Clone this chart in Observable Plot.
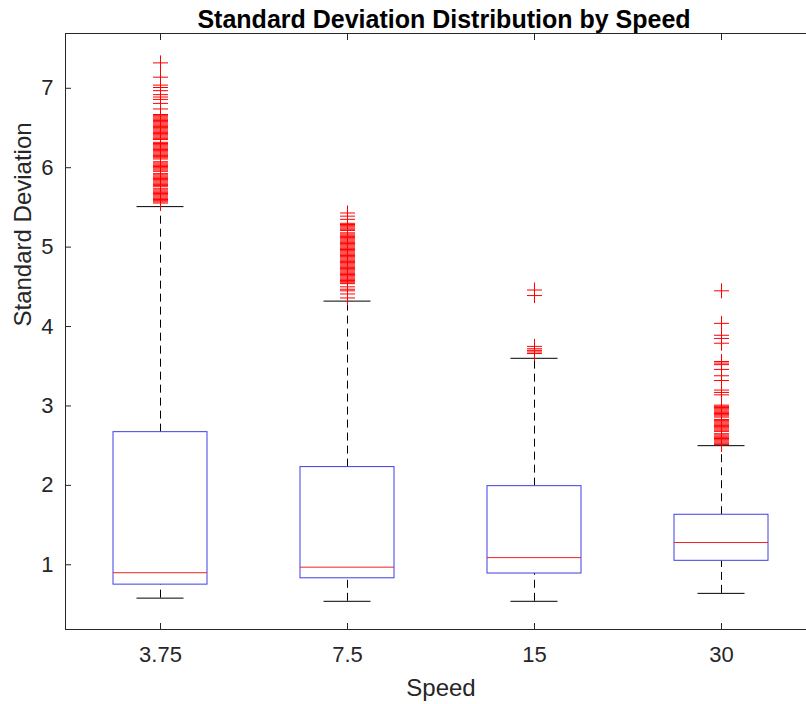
<!DOCTYPE html>
<html>
<head>
<meta charset="utf-8">
<script src="https://cdn.jsdelivr.net/npm/d3@7"></script>
<script src="https://cdn.jsdelivr.net/npm/@observablehq/plot@0.6"></script>
<style>
  html, body { margin: 0; padding: 0; background: #fff; overflow: hidden; }
  #chart svg { display: block; }
</style>
</head>
<body>
<div id="chart"></div>
<script>
const titleText = "Standard Deviation Distribution by Speed";
const xLabel = "Speed";
const yLabel = "Standard Deviation";

const speeds = ["3.75", "7.5", "15", "30"];
const q1 = [0.75, 0.83, 0.89, 1.05];
const medians = [0.90, 0.97, 1.09, 1.28];
const q3 = [2.67, 2.23, 1.99, 1.63];
const whiskerLow = [0.58, 0.54, 0.54, 0.64];
const whiskerHigh = [5.51, 4.32, 3.60, 2.50];
const yTicks = [1, 2, 3, 4, 5, 6, 7];

const outliers375 = [7.32, 7.14, 7.04, 7.01, 6.97, 6.92, 6.89, 6.86, 6.81, 6.74,
  6.67, 6.655, 6.64, 6.625, 6.61, 6.595, 6.58, 6.565, 6.55, 6.535, 6.52, 6.505, 6.49, 6.475,
  6.46, 6.445, 6.43, 6.415, 6.40, 6.385, 6.37, 6.355,
  6.32, 6.305, 6.29, 6.275, 6.26, 6.245, 6.23, 6.215, 6.20, 6.185, 6.17, 6.155, 6.14, 6.125, 6.11,
  6.075, 6.06, 6.045, 6.03, 6.015, 6.00, 5.985, 5.97, 5.955,
  5.925, 5.91, 5.895, 5.88, 5.865, 5.85, 5.835, 5.82, 5.805, 5.79, 5.775, 5.76,
  5.735, 5.72, 5.705, 5.69, 5.675, 5.66, 5.645, 5.63, 5.615, 5.60, 5.585, 5.57, 5.555];
const outliers75 = [5.43, 5.39, 5.35,
  5.30, 5.285, 5.27, 5.255, 5.24, 5.225, 5.21, 5.18, 5.165, 5.15, 5.135, 5.12, 5.105,
  5.09, 5.075, 5.06, 5.045, 5.03, 5.015, 5.00, 4.985, 4.97, 4.955, 4.94, 4.925, 4.91, 4.895,
  4.88, 4.865, 4.85, 4.835, 4.82, 4.805, 4.79, 4.775, 4.76, 4.745, 4.73, 4.715, 4.70, 4.685,
  4.67, 4.655, 4.64, 4.625, 4.61, 4.595, 4.58, 4.565, 4.55, 4.54,
  4.50, 4.47, 4.45, 4.41, 4.36];
const outliers15 = [4.46, 4.39, 3.75, 3.72, 3.70, 3.68, 3.66];
const outliers30 = [4.45, 4.04, 3.89, 3.85, 3.79, 3.56, 3.54, 3.52, 3.46, 3.38, 3.32,
  3.20, 3.17, 3.14,
  3.01, 2.995, 2.98, 2.965, 2.95, 2.935, 2.92, 2.905, 2.89, 2.875, 2.86,
  2.83, 2.815, 2.80, 2.785, 2.77, 2.755, 2.74, 2.725, 2.71, 2.695, 2.68,
  2.65, 2.635, 2.62, 2.605, 2.59, 2.575, 2.56, 2.545, 2.53, 2.515];

const boxes = speeds.map((s, i) => ({
  speed: s, q1: q1[i], median: medians[i], q3: q3[i], lo: whiskerLow[i], hi: whiskerHigh[i]
}));
const outlierLists = [outliers375, outliers75, outliers15, outliers30];
const outliers = speeds.flatMap((s, i) => outlierLists[i].map(v => ({speed: s, value: v})));

const axisColor = "#262626";

const chart = Plot.plot({
  width: 806,
  height: 704,
  marginTop: 33,
  marginBottom: 75,
  marginLeft: 65,
  marginRight: 0,
  style: {fontFamily: "'Liberation Sans', Arial, Helvetica, sans-serif", fontSize: "22px", color: axisColor, background: "#fff", overflow: "hidden"},
  // the original axes box runs past the right edge of the picture
  x: {type: "band", domain: speeds, range: [65, 816], paddingInner: 0.5, paddingOuter: 0.25},
  y: {domain: [0.185, 7.69]},
  marks: [
    Plot.frame({stroke: axisColor, insetRight: -10}),
    // tick labels
    Plot.axisX({tickSize: 0, tickPadding: 17, fontSize: 22, label: null, fill: axisColor}),
    Plot.axisY({ticks: yTicks, tickSize: 0, tickPadding: 12, fontSize: 22, label: null, fill: axisColor}),
    // inward ticks
    Plot.axisX({anchor: "bottom", tickSize: -6, fill: "none", label: null, stroke: axisColor}),
    Plot.axisX({anchor: "top", tickSize: -6, fill: "none", label: null, stroke: axisColor}),
    Plot.axisY({anchor: "left", ticks: yTicks, tickSize: -6, fill: "none", label: null, stroke: axisColor}),
    // whiskers
    Plot.ruleX(boxes, {x: "speed", y1: "q3", y2: "hi", stroke: "#000", strokeDasharray: "8,5"}),
    Plot.ruleX(boxes, {x: "speed", y1: "lo", y2: "q1", stroke: "#000", strokeDasharray: "8,5"}),
    Plot.tickY(boxes, {x: "speed", y: "hi", stroke: "#000", insetLeft: 23.5, insetRight: 23.5}),
    Plot.tickY(boxes, {x: "speed", y: "lo", stroke: "#000", insetLeft: 23.5, insetRight: 23.5}),
    // boxes
    Plot.barY(boxes, {x: "speed", y1: "q1", y2: "q3", fill: "#fff", stroke: "#3f3fe6", strokeWidth: 1}),
    Plot.tickY(boxes, {x: "speed", y: "median", stroke: "#e22", strokeWidth: 1}),
    // outliers
    Plot.dot(outliers, {x: "speed", y: "value", symbol: "plus", r: 4.9, stroke: "#ff0000", strokeWidth: 1}),
    // titles
    Plot.text([titleText], {frameAnchor: "top", dx: 8, dy: -6, lineAnchor: "bottom", fontSize: 25, fontWeight: "bold", fill: "#000"}),
    Plot.text([xLabel], {frameAnchor: "bottom", dx: 5, dy: 66, lineAnchor: "bottom", fontSize: 24, fill: axisColor}),
    Plot.text([yLabel], {frameAnchor: "left", dx: -35, dy: -5, rotate: -90, lineAnchor: "bottom", fontSize: 24, fill: axisColor})
  ]
});
document.getElementById("chart").append(chart);
</script>
</body>
</html>
